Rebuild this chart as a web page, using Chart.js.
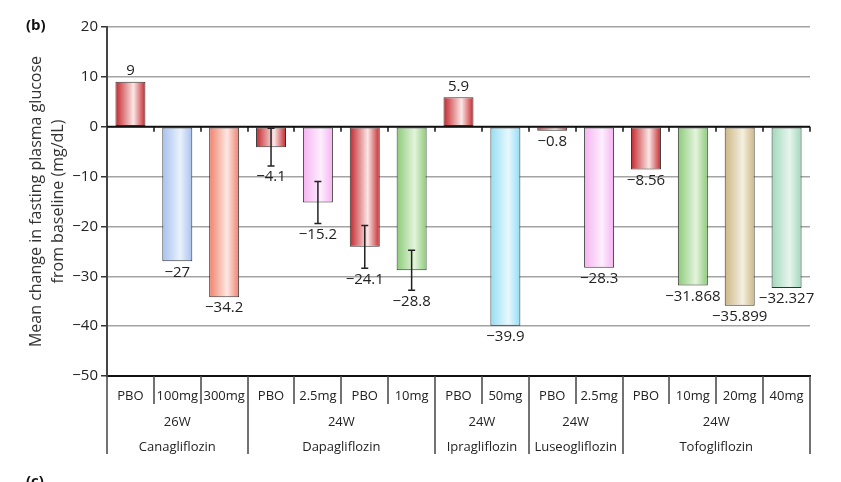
<!DOCTYPE html>
<html>
<head>
<meta charset="utf-8">
<script src="https://cdn.jsdelivr.net/npm/chart.js@4.4.1/dist/chart.umd.min.js"></script>
<style>
  html, body { margin: 0; padding: 0; background: #fff; }
  #wrap { width: 841px; height: 482px; position: relative; }
</style>
</head>
<body>
<div id="wrap"><canvas id="myChart"></canvas></div>
<script>
// datos
const doses = ['PBO', '100mg', '300mg', 'PBO', '2.5mg', 'PBO', '10mg', 'PBO', '50mg', 'PBO', '2.5mg', 'PBO', '10mg', '20mg', '40mg'];
const values = [9, -27, -34.2, -4.1, -15.2, -24.1, -28.8, 5.9, -39.9, -0.8, -28.3, -8.56, -31.868, -35.899, -32.327];
const errors = [null, null, null, 3.8, 4.2, 4.3, 4.0, null, null, null, null, null, null, null, null];
const drugs = ['Canagliflozin', 'Dapagliflozin', 'Ipragliflozin', 'Luseogliflozin', 'Tofogliflozin'];
const weeks = ['26W', '24W', '24W', '24W', '24W'];
const groupSizes = [3, 4, 2, 2, 4];
const yTicks = [20, 10, 0, -10, -20, -30, -40, -50];

// colores de cada barra (borde oscuro, centro claro)
const barColors = ['red', 'blue', 'salmon', 'red', 'pink', 'red', 'green', 'red', 'cyan', 'red', 'pink', 'red', 'green', 'tan', 'mint'];
const palette = {
    red: ['#c4262b', '#fbe6e6'],
    blue: ['#a6c1ee', '#eaf1fc'],
    salmon: ['#f0806c', '#fde8e3'],
    pink: ['#f6b2f1', '#fdeefd'],
    green: ['#8ccb78', '#e4f4dd'],
    cyan: ['#93ddf3', '#e8f8fd'],
    tan: ['#ccb686', '#f4efdf'],
    mint: ['#a0d8ba', '#e7f5ee']
};

const FONT = '"Open Sans", "DejaVu Sans", sans-serif';
const BAR_PCT = 0.64;

function minus(v) {
    return v < 0 ? '\u2212' + Math.abs(v) : String(v);
}

function barFill(context) {
    const chart = context.chart;
    const i = context.dataIndex;
    const pal = palette[barColors[i]] || palette.red;
    const xs = chart.scales.x;
    if (!chart.chartArea || !xs || i === undefined || !xs.width) return pal[0];
    const cx = xs.getPixelForValue(i);
    const w = (xs.width / doses.length) * BAR_PCT;
    const g = chart.ctx.createLinearGradient(cx - w / 2, 0, cx + w / 2, 0);
    g.addColorStop(0, pal[0]);
    g.addColorStop(0.6, pal[1]);
    g.addColorStop(1, pal[0]);
    return g;
}

// etiquetas, barras de error y la tabla del eje x
const extrasPlugin = {
    id: 'extras',
    afterDatasetsDraw(chart) {
        const { ctx, chartArea, scales: { x, y } } = chart;
        const meta = chart.getDatasetMeta(0);
        const y0 = y.getPixelForValue(0);
        const n = doses.length;
        ctx.save();

        // linea del cero con marcas
        ctx.strokeStyle = '#111';
        ctx.lineWidth = 2;
        ctx.beginPath();
        ctx.moveTo(chartArea.left, y0);
        ctx.lineTo(chartArea.right, y0);
        ctx.stroke();
        ctx.lineWidth = 1.5;
        ctx.beginPath();
        for (let k = 1; k <= n; k++) {
            const px = Math.round(x.getPixelForValue(k - 0.5));
            ctx.moveTo(px, y0);
            ctx.lineTo(px, y0 + 5);
        }
        ctx.stroke();

        // barras de error
        ctx.strokeStyle = '#222';
        ctx.lineWidth = 1.5;
        meta.data.forEach((bar, i) => {
            if (errors[i] == null) return;
            const top = y.getPixelForValue(values[i] + errors[i]);
            const bot = y.getPixelForValue(values[i] - errors[i]);
            ctx.beginPath();
            ctx.moveTo(bar.x, top);
            ctx.lineTo(bar.x, bot);
            ctx.moveTo(bar.x - 3.5, top);
            ctx.lineTo(bar.x + 3.5, top);
            ctx.moveTo(bar.x - 3.5, bot);
            ctx.lineTo(bar.x + 3.5, bot);
            ctx.stroke();
        });

        // valores
        ctx.fillStyle = '#222';
        ctx.font = '15px ' + FONT;
        ctx.textAlign = 'center';
        ctx.textBaseline = 'middle';
        meta.data.forEach((bar, i) => {
            const v = values[i];
            if (v >= 0) {
                ctx.fillText(minus(v), bar.x, bar.y - 11);
            } else {
                let end = bar.y;
                if (errors[i] != null) end = y.getPixelForValue(v - errors[i]);
                ctx.fillText(minus(v), bar.x, end + 11);
            }
        });

        // tabla bajo el eje
        const base = chartArea.bottom;
        ctx.strokeStyle = '#444';
        ctx.lineWidth = 1.5;
        ctx.beginPath();
        let idx = 0;
        const bounds = [0];
        groupSizes.forEach(s => { idx += s; bounds.push(idx); });
        for (let k = 0; k <= n; k++) {
            const px = Math.round(x.getPixelForValue(k - 0.5));
            const isGroup = bounds.indexOf(k) >= 0;
            ctx.moveTo(px, base);
            ctx.lineTo(px, base + (isGroup ? 78 : 28));
        }
        ctx.stroke();

        ctx.fillStyle = '#222';
        ctx.font = '13px ' + FONT;
        for (let g = 0; g < drugs.length; g++) {
            const a = x.getPixelForValue(bounds[g] - 0.5);
            const b = x.getPixelForValue(bounds[g + 1] - 0.5);
            const cx = (a + b) / 2;
            ctx.fillText(weeks[g], cx, base + 46);
            ctx.fillText(drugs[g], cx, base + 71);
        }

        // letras de panel
        ctx.font = 'bold 15px ' + FONT;
        ctx.textAlign = 'left';
        ctx.fillStyle = '#111';
        ctx.fillText('(b)', 26, 26);
        ctx.textBaseline = 'top';
        ctx.fillText('(c)', 26, 474);
        ctx.restore();
    }
};

const graphTarget = document.getElementById('myChart');

new Chart(graphTarget, {
    type: 'bar',
    data: {
        labels: doses,
        datasets: [{
            data: values,
            backgroundColor: barFill,
            borderColor: '#333',
            borderWidth: 1,
            borderSkipped: false,
            barPercentage: BAR_PCT,
            categoryPercentage: 1.0
        }]
    },
    options: {
        responsive: true,
        maintainAspectRatio: false,
        animation: false,
        events: [],
        layout: { padding: { left: 0, right: 31, top: 27, bottom: 0 } },
        plugins: {
            legend: { display: false },
            tooltip: { enabled: false }
        },
        scales: {
            x: {
                grid: { display: false, drawTicks: false },
                border: { display: true, color: '#111', width: 2 },
                ticks: {
                    autoSkip: false,
                    maxRotation: 0,
                    minRotation: 0,
                    padding: 12,
                    color: '#222',
                    font: { family: FONT, size: 13 }
                },
                afterFit: (scale) => { scale.height = 106; }
            },
            y: {
                min: -50,
                max: 20,
                afterBuildTicks: (scale) => { scale.ticks = yTicks.map(v => ({ value: v })); },
                grid: {
                    color: (c) => (c.tick && c.tick.value === -50) ? '#111' : '#a3a3a3',
                    lineWidth: 1.5,
                    tickColor: '#333',
                    tickLength: 6
                },
                border: { display: true, color: '#444', width: 2 },
                ticks: {
                    padding: 3,
                    color: '#222',
                    font: { family: FONT, size: 15 },
                    callback: (v) => minus(v)
                },
                title: {
                    display: true,
                    text: ['Mean change in fasting plasma glucose', 'from baseline (mg/dL)'],
                    color: '#333',
                    font: { family: FONT, size: 16, lineHeight: 1.375 },
                    padding: { top: 25, bottom: 0 }
                },
                afterFit: (scale) => { scale.width = 107; }
            }
        }
    },
    plugins: [extrasPlugin]
});
</script>
</body>
</html>
